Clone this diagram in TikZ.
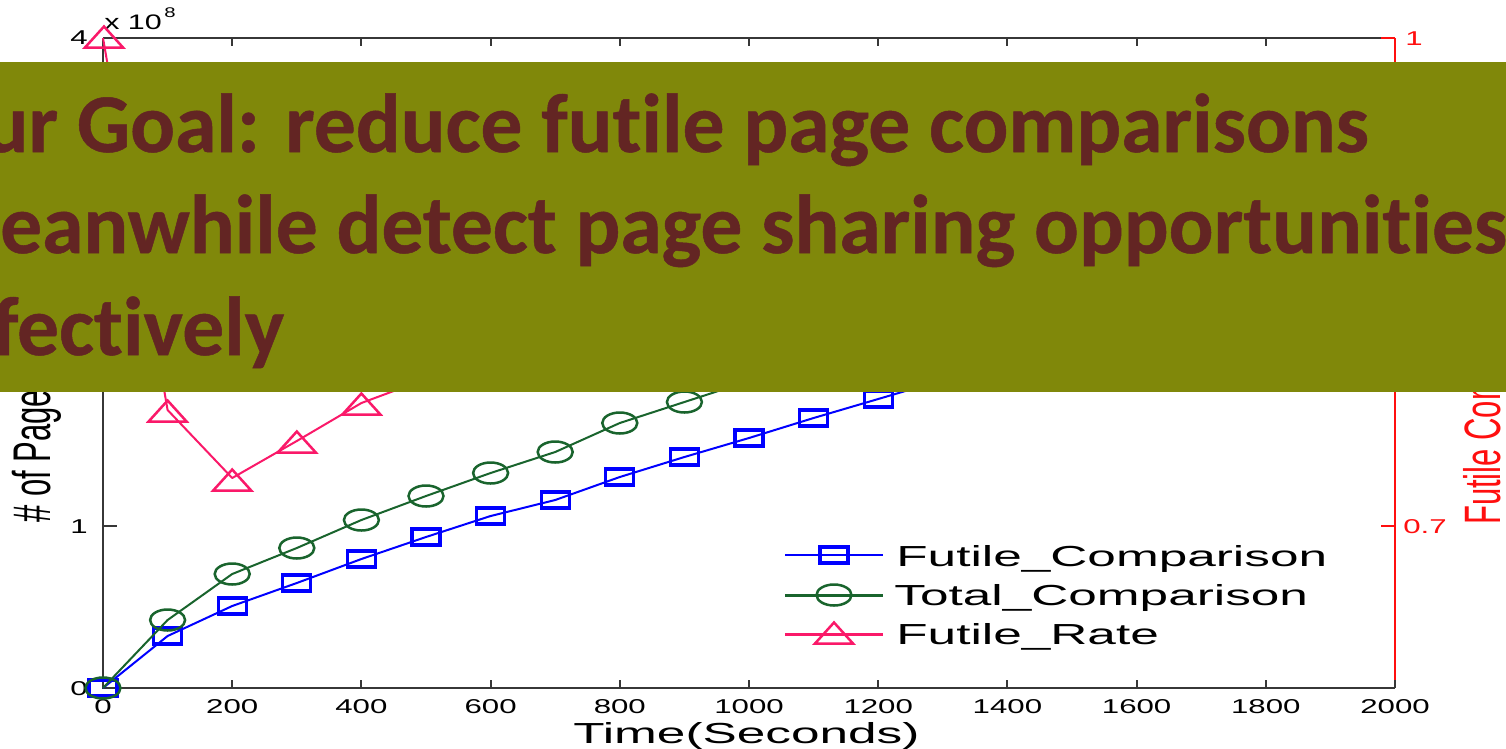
\documentclass[tikz,border=0pt]{standalone}
\usepackage{fontspec}
\setmainfont{Liberation Sans}
\newfontfamily\goalfont{Carlito}[Ligatures=NoCommon, BoldFeatures={FakeBold=0.6}]

\definecolor{axgray}{RGB}{55,55,55}
\definecolor{axred}{RGB}{255,15,15}
\definecolor{plotblue}{RGB}{0,0,255}
\definecolor{plotgreen}{RGB}{25,100,45}
\definecolor{plotpink}{RGB}{250,25,105}
\definecolor{bannerolive}{RGB}{128,136,10}
\definecolor{goalbrown}{RGB}{99,37,35}

\tikzset{
  axisline/.style={draw=axgray, line width=2pt},
  redaxis/.style={draw=axred, line width=2pt},
  ticklab/.style={inner sep=0pt, xscale=1.56, font=\fontsize{20}{20}\selectfont},
  leglab/.style={inner sep=0pt, xscale=1.77, anchor=base west, font=\fontsize{29}{29}\selectfont},
  ylab/.style={inner sep=0pt, rotate=90, anchor=base west, font=\fontsize{31}{31}\selectfont},
  goal/.style={inner sep=0pt, anchor=base west, text=goalbrown,
    font=\goalfont\bfseries\fontsize{83.5}{101}\selectfont},
  bluecurve/.style={draw=plotblue, line width=2pt, line join=round},
  greencurve/.style={draw=plotgreen, line width=2pt, line join=round},
  pinkcurve/.style={draw=plotpink, line width=2pt, line join=round},
  sqm/.pic={\draw[plotblue, line width=3.2pt] (-14,-8) rectangle (14,8);},
  cim/.pic={\draw[plotgreen, line width=2.5pt] (0,0) ellipse (17.5 and 10.5);},
  trm/.pic={\draw[plotpink, line width=2.5pt, line join=miter] (0,-9.5) -- (19,11.5) -- (-19,11.5) -- cycle;}
}

\begin{document}
\begin{tikzpicture}[x=1pt, y=-1pt]
  \useasboundingbox (0,0) rectangle (1506,748);
  \clip (0,0) rectangle (1506,748);
  \fill[white] (0,0) rectangle (1506,748);

  % axes frame
  \coordinate (origin) at (103,688);
  \coordinate (topleft) at (103,38);
  \coordinate (topright) at (1395,38);
  \coordinate (botright) at (1395,688);
  \draw[axisline] (topleft) -- (origin) -- (botright);
  \draw[axisline] (topleft) -- (topright);

  % time ticks and labels
  \foreach \i in {0,...,10} {
    \draw[axisline] (103+129.2*\i,688) -- ++(0,-8);
    \draw[axisline] (103+129.2*\i,38) -- ++(0,8);
    \node[ticklab, anchor=base] (xt\i) at (103+129.2*\i,713) {\number\numexpr\i*200\relax};
  }

  % left axis ticks and labels
  \foreach \j in {0,...,4} {
    \draw[axisline] (103,688-162.5*\j) -- ++(14,0);
  }
  \node[ticklab, anchor=base east] (yl0) at (88,695) {0};
  \node[ticklab, anchor=base east] (yl1) at (88,533) {1};
  \node[ticklab, anchor=base east] (yl4) at (88,44) {4};
  \node[inner sep=0pt, xscale=1.45, anchor=base west, font=\fontsize{21}{21}\selectfont] (expo) at (104,29) {x 10};
  \node[inner sep=0pt, xscale=1.45, anchor=base west, font=\fontsize{14}{14}\selectfont] (expo8) at (164,17) {8};

  % right axis
  \draw[redaxis] (topright) -- (1395,680);
  \foreach \k in {0,...,3} {
    \draw[redaxis] (1395,38+162.5*\k) -- ++(-14,0);
  }
  \node[ticklab, anchor=base west, text=axred] (yr1) at (1405,45) {1};
  \node[ticklab, anchor=base west, text=axred] (yr07) at (1403,533) {0.7};

  % axis titles
  \node[ylab, yscale=1.71] (ytitle) at (50,523) {\# of Page Comparisons};
  \node[ylab, yscale=1.65, text=axred] (ytitle2) at (1500,525) {Futile Comparison Rate};
  \node[leglab] (xtitle) at (573,743) {Time(Seconds)};

  % Futile_Comparison
  \draw[bluecurve] (103,688) -- (167.6,636) -- (232.2,606) -- (296.8,583) -- (361.4,559)
    -- (426,537) -- (490.6,516) -- (555.2,500) -- (619.8,477) -- (684.4,457)
    -- (749,438) -- (813.6,418) -- (878.2,399) -- (942.8,380);
  \foreach \p/\q in {103/688, 167.6/636, 232.2/606, 296.8/583, 361.4/559, 426/537,
      490.6/516, 555.2/500, 619.8/477, 684.4/457, 749/438, 813.6/418, 878.2/399}
    \pic at (\p,\q) {sqm};

  % Total_Comparison
  \draw[greencurve] (103,688) -- (167.6,620) -- (232.2,574) -- (296.8,548) -- (361.4,520)
    -- (426,496) -- (490.6,473) -- (555.2,452) -- (619.8,423) -- (684.4,402) -- (749,381);
  \foreach \p/\q in {103/688, 167.6/620, 232.2/574, 296.8/548, 361.4/520, 426/496,
      490.6/473, 555.2/452, 619.8/423, 684.4/402}
    \pic at (\p,\q) {cim};

  % Futile_Rate
  \draw[pinkcurve] (103,38) -- (167.6,410) -- (232.2,478) -- (296.8,441) -- (361.4,403) -- (426,379);
  \foreach \p/\q in {104/36, 167.6/410, 232.2/479, 296.8/441, 361.4/403}
    \pic at (\p,\q) {trm};

  % legend
  \coordinate (lgA0) at (785,555); \coordinate (lgA1) at (883,555);
  \coordinate (lgB0) at (785,595); \coordinate (lgB1) at (883,595);
  \coordinate (lgC0) at (785,634); \coordinate (lgC1) at (883,634);
  \draw[bluecurve] (lgA0) -- (lgA1);
  \draw[greencurve, line width=3pt] (lgB0) -- (lgB1);
  \draw[pinkcurve, line width=3pt] (lgC0) -- (lgC1);
  \pic at (834,555) {sqm};
  \pic at (834,595) {cim};
  \pic at (834,632) {trm};
  \node[leglab] (legA) at (896,566) {Futile\_Comparison};
  \node[leglab] (legB) at (894,605) {Total\_Comparison};
  \node[leglab] (legC) at (896,644) {Futile\_Rate};

  % goal banner
  \fill[bannerolive] (0,62) rectangle (1506,392);
  \node[goal] (goalA) at (-73,152) {Our Goal: reduce futile page comparisons};
  \node[goal] (goalB) at (-73,253) {Meanwhile detect page sharing opportunities};
  \node[goal] (goalC) at (-73,355) {Effectively};
\end{tikzpicture}
\end{document}
